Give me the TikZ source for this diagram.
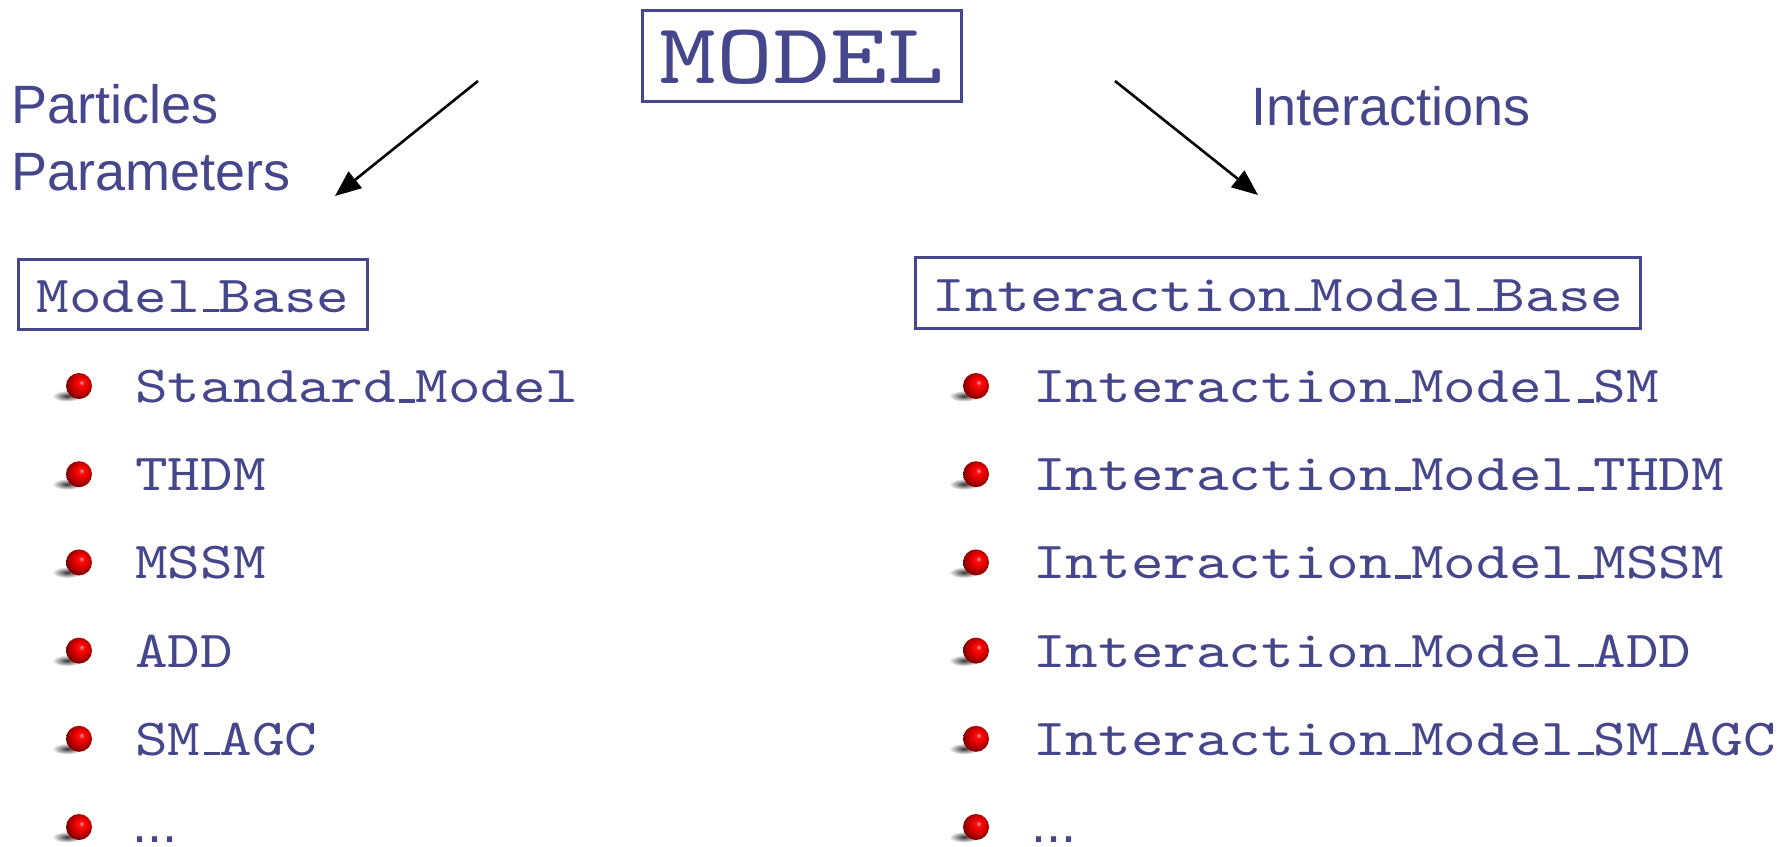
\documentclass[tikz,border=0pt]{standalone}
\usepackage{fontspec}
\newfontfamily\monofam[FakeStretch=1.195]{lmmono10-regular.otf}
\newfontfamily\titlefam[FakeStretch=1.26]{lmmono10-regular.otf}
\newfontfamily\sansfam{Liberation Sans}
\usetikzlibrary{arrows.meta}
\definecolor{ink}{RGB}{70,70,140}
% short underscore bar sitting on the baseline
\newcommand\usc{\hspace{3.2pt}\rule{16pt}{3.5pt}}
% red sphere with its highlight up and to the right
\pgfdeclareradialshading{redball}{\pgfqpoint{5bp}{7bp}}{%
  color(0bp)=(red!35!white); color(5bp)=(red!95!white);
  color(14bp)=(red!88!black); color(27bp)=(red!50!black);
  color(50bp)=(red!40!black)}
\tikzset{
  codefont/.style={font=\monofam\fontsize{52}{52}\selectfont},
  frame/.style={draw=ink, line width=3pt, text=ink, codefont,
    text height=46pt, text depth=10pt, inner sep=0pt},
  item/.style={anchor=base west, inner sep=0pt, text=ink, codefont},
  headtext/.style={anchor=base west, inner sep=0pt, text=ink,
    font=\sansfam\fontsize{54}{54}\selectfont},
  ball/.style={circle, inner sep=0pt, minimum size=26pt, shade, shading=redball},
  pointer/.style={line width=2.6pt, -{Triangle[length=26pt,width=21pt]}},
}
\begin{document}
\begin{tikzpicture}[x=1pt,y=-1pt]
\useasboundingbox[fill=white] (0,0) rectangle (1788,846);

% title and the two base classes
\node[frame, minimum width=318.5pt, minimum height=90.6pt,
  font=\titlefam\fontsize{86}{86}\selectfont, text height=70pt, text depth=16pt]
  (model) at (802,56) {MODEL};
\node[frame, minimum width=348.5pt, minimum height=70pt] (mbase) at (193,294) {Model\usc Base};
\node[frame, minimum width=725.7pt, minimum height=70.7pt] (ibase) at (1278,293.3) {Interaction\usc Model\usc Base};

% headings
\node[headtext] (particles) at (11,123) {Particles};
\node[headtext] (params) at (11,190) {Parameters};
\node[headtext] (inter) at (1251,125) {Interactions};

% arrows
\coordinate (lstart) at (478,81);
\coordinate (lend) at (335,196);
\coordinate (rstart) at (1115,81);
\coordinate (rend) at (1258,195);
\draw[pointer] (lstart) -- (lend);
\draw[pointer] (rstart) -- (rend);

% bullet lists
\foreach \k/\lt/\rt in {0/Standard\usc Model/Interaction\usc Model\usc SM,
                        1/THDM/Interaction\usc Model\usc THDM,
                        2/MSSM/Interaction\usc Model\usc MSSM,
                        3/ADD/Interaction\usc Model\usc ADD,
                        4/SM\usc AGC/Interaction\usc Model\usc SM\usc AGC}{
  \pgfmathsetmacro{\yb}{402.5+88.2*\k}
  \node[item] (l\k) at (135,\yb) {\lt};
  \node[item] (r\k) at (1033,\yb) {\rt};
}
\node[headtext] (l5) at (132,842) {...};
\node[headtext] (r5) at (1031,842) {...};

\foreach \k in {0,...,5}{
  \pgfmathsetmacro{\yc}{402.5+88.2*\k-16.5}
  \foreach \xc/\s in {79/lb, 976/rb}{
    \shade[inner color=black!80, outer color=white]
      (\xc-12,\yc+10) ellipse [x radius=15pt, y radius=5.5pt];
    \node[ball] (\s\k) at (\xc,\yc) {};
  }
}
\end{tikzpicture}
\end{document}
